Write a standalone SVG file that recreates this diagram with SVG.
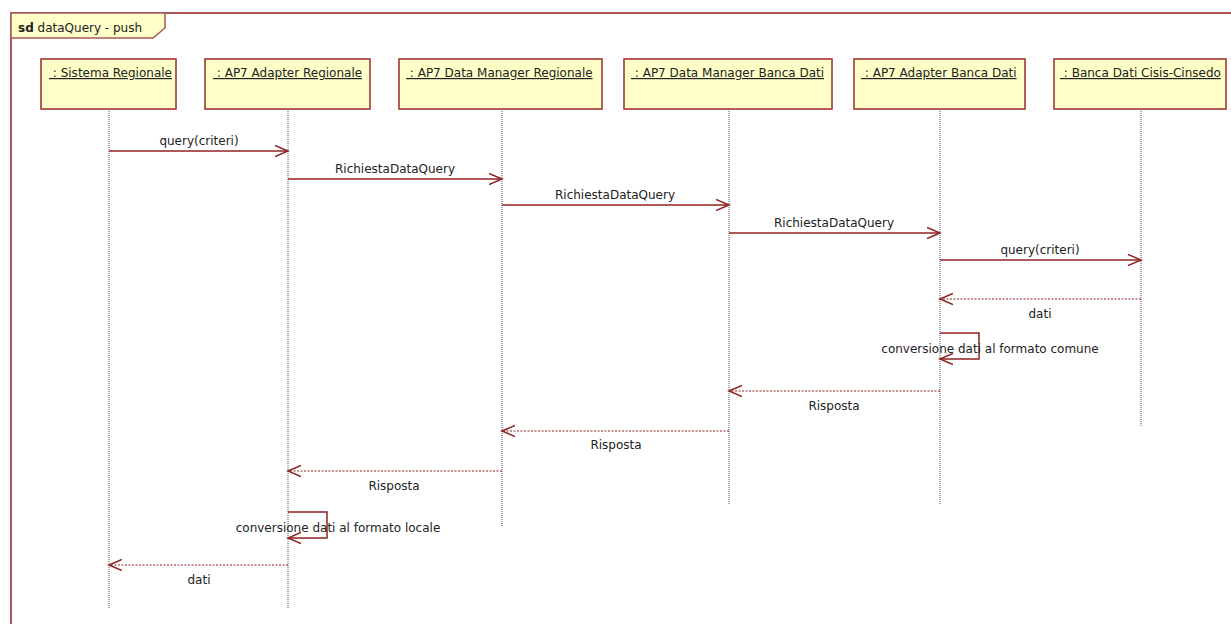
<svg xmlns="http://www.w3.org/2000/svg" width="1231" height="624" viewBox="0 0 1231 624">
<style>
  text { font-family: "DejaVu Sans", "Liberation Sans", sans-serif; font-size: 12px; fill: #222; }
  .box { fill: #ffffc8; stroke: #9c2a2a; stroke-width: 1.5; }
  .lbl { text-decoration: underline; }
  .life { stroke: #555; stroke-width: 1; stroke-dasharray: 1 1; fill: none; }
  .msg { stroke: #8e2323; stroke-width: 1.5; fill: none; marker-end: url(#open); }
  .ret { stroke: #8e2323; stroke-width: 1; stroke-dasharray: 2 1.5; fill: none; marker-end: url(#open); }
  .self { stroke: #8e2323; stroke-width: 1.5; fill: none; marker-end: url(#open); }
  .frame { stroke: #a85858; stroke-width: 2; fill: none; }
  .mid { text-anchor: middle; }
</style>
<defs>
  <marker id="open" markerWidth="16" markerHeight="14" refX="13" refY="7" orient="auto" markerUnits="userSpaceOnUse">
    <path d="M0,1.5 L13,7 L0,12.5" fill="none" stroke="#8e2323" stroke-width="1.5"/>
  </marker>
</defs>
<rect x="0" y="0" width="1231" height="624" fill="#ffffff"/>
<g id="frame">
  <path class="frame" d="M1231,13 H11 V624"/>
  <path d="M11,13 H165 V28 L153,38 H11 Z" fill="#ffffc8" stroke="#a85858" stroke-width="1.5"/>
  <text x="18" y="32"><tspan font-weight="bold">sd</tspan> dataQuery - push</text>
</g>
<g id="lifelines">
  <line class="life" x1="109" y1="109" x2="109" y2="609"/>
  <line class="life" x1="288" y1="109" x2="288" y2="609"/>
  <line class="life" x1="502" y1="109" x2="502" y2="527"/>
  <line class="life" x1="729" y1="109" x2="729" y2="504"/>
  <line class="life" x1="940" y1="109" x2="940" y2="504"/>
  <line class="life" x1="1141" y1="109" x2="1141" y2="427"/>
</g>
<g id="n-sistema">
  <rect class="box" x="41" y="59" width="135" height="50"/>
  <text class="lbl" x="49" y="77" xml:space="preserve"> : Sistema Regionale</text>
</g>
<g id="n-adapter-reg">
  <rect class="box" x="205" y="59" width="165" height="50"/>
  <text class="lbl" x="213" y="77" xml:space="preserve"> : AP7 Adapter Regionale</text>
</g>
<g id="n-dm-reg">
  <rect class="box" x="399" y="59" width="203" height="50"/>
  <text class="lbl" x="406" y="77" xml:space="preserve"> : AP7 Data Manager Regionale</text>
</g>
<g id="n-dm-bd">
  <rect class="box" x="624" y="59" width="208" height="50"/>
  <text class="lbl" x="631" y="77" xml:space="preserve"> : AP7 Data Manager Banca Dati</text>
</g>
<g id="n-adapter-bd">
  <rect class="box" x="854" y="59" width="171" height="50"/>
  <text class="lbl" x="861" y="77" xml:space="preserve"> : AP7 Adapter Banca Dati</text>
</g>
<g id="n-cisis">
  <rect class="box" x="1054" y="59" width="172" height="50"/>
  <text class="lbl" x="1060" y="77" xml:space="preserve"> : Banca Dati Cisis-Cinsedo</text>
</g>
<g id="connectors">
  <line class="msg" x1="109" y1="151" x2="288" y2="151"/>
  <text class="mid" x="199" y="145">query(criteri)</text>

  <line class="msg" x1="288" y1="179" x2="502" y2="179"/>
  <text class="mid" x="395" y="173">RichiestaDataQuery</text>

  <line class="msg" x1="502" y1="205" x2="729" y2="205"/>
  <text class="mid" x="615" y="199">RichiestaDataQuery</text>

  <line class="msg" x1="729" y1="233" x2="940" y2="233"/>
  <text class="mid" x="834" y="227">RichiestaDataQuery</text>

  <line class="msg" x1="940" y1="260" x2="1141" y2="260"/>
  <text class="mid" x="1040" y="254">query(criteri)</text>

  <line class="ret" x1="1141" y1="299" x2="940" y2="299"/>
  <text class="mid" x="1040" y="318">dati</text>

  <path class="self" d="M940,333 H979 V359 H940"/>
  <text class="mid" x="990" y="353">conversione dati al formato comune</text>

  <line class="ret" x1="940" y1="391" x2="729" y2="391"/>
  <text class="mid" x="834" y="410">Risposta</text>

  <line class="ret" x1="729" y1="431" x2="502" y2="431"/>
  <text class="mid" x="616" y="449">Risposta</text>

  <line class="ret" x1="502" y1="471" x2="288" y2="471"/>
  <text class="mid" x="394" y="490">Risposta</text>

  <path class="self" d="M288,512 H327 V538 H288"/>
  <text class="mid" x="338" y="532">conversione dati al formato locale</text>

  <line class="ret" x1="288" y1="565" x2="109" y2="565"/>
  <text class="mid" x="199" y="584">dati</text>
</g>
</svg>
